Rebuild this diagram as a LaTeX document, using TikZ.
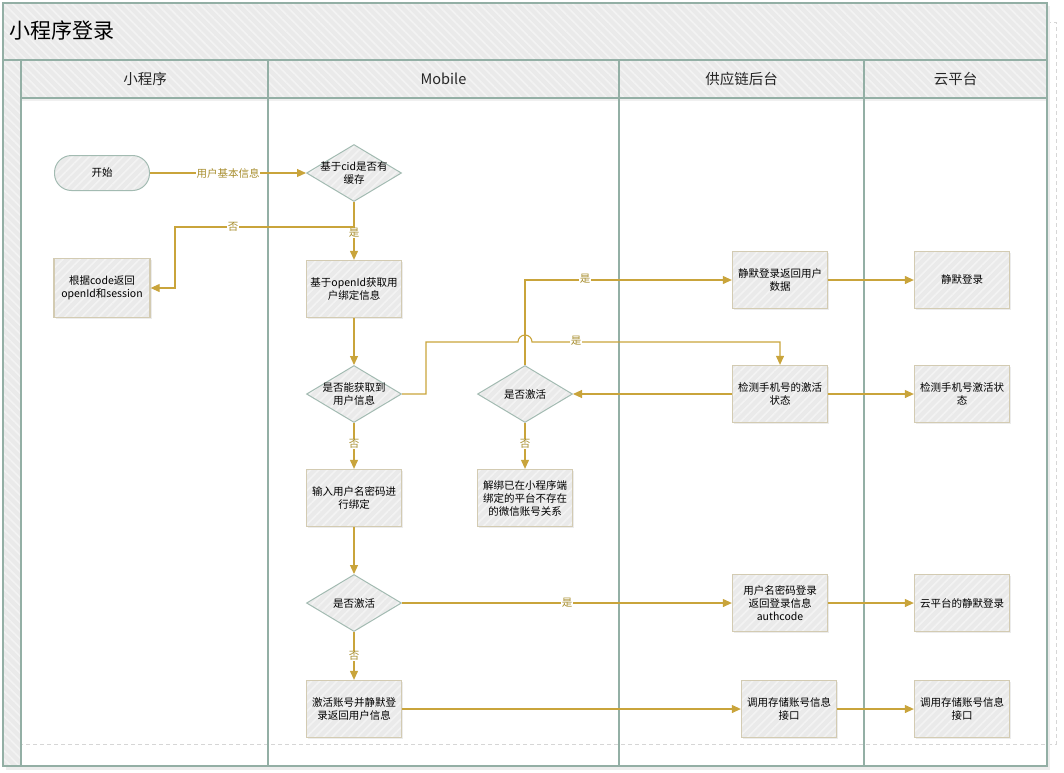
\documentclass[tikz,border=0pt]{standalone}
\usepackage{fontspec}
\setmainfont{Noto Sans CJK SC}
\usetikzlibrary{shapes.geometric,arrows.meta,patterns.meta,shadows,calc}

\definecolor{frameln}{HTML}{93AFA5}
\definecolor{hatchbg}{HTML}{EAEAEA}
\definecolor{hatchln}{HTML}{F3F3F3}
\definecolor{boxln}{HTML}{D3CBB2}
\definecolor{flow}{HTML}{C9A43B}
\definecolor{flowtxt}{HTML}{A88E2E}
\definecolor{pagedash}{HTML}{D6D6D6}

\begin{document}
\begin{tikzpicture}[x=1pt,y=-1pt,
  nodetext/.style={font=\fontsize{10.5}{13}\selectfont},
  hatch/.style={preaction={fill=hatchbg},
    pattern={Lines[angle=45,distance=6pt,line width=1.6pt]}, pattern color=hatchln},
  hdrhatch/.style={preaction={fill=hatchbg},
    pattern={Lines[angle=-45,distance=6pt,line width=1.6pt]}, pattern color=hatchln},
  box/.style={rectangle, draw=boxln, line width=1.3pt, minimum width=95pt,
    minimum height=57pt, inner sep=2pt, align=center, nodetext,
    drop shadow={shadow xshift=1.5pt, shadow yshift=-1.8pt, opacity=0.15}, hatch},
  dia/.style={diamond, draw=frameln!85, line width=1pt, minimum width=95pt,
    minimum height=57pt, inner sep=0pt, hatch},
  dtext/.style={align=center, nodetext, inner sep=0pt},
  stadium/.style={rectangle, rounded corners=17pt, draw=frameln!85, line width=1pt,
    minimum width=95pt, minimum height=35pt, nodetext, hatch},
  flowline/.style={draw=flow, line width=1.1pt, -{Triangle[length=9pt,width=8pt]}},
  lbl/.style={fill=white, text=flowtxt, font=\fontsize{10.5}{12}\selectfont, inner sep=0.8pt},
  hdr/.style={font=\fontsize{14.5}{17}\selectfont, text=black!85},
  lane/.style={draw=frameln, line width=1.2pt}]

\useasboundingbox (0,0) rectangle (1064,772);

% page edge marker
\draw[pagedash, dashed, dash pattern=on 4pt off 3pt, line width=0.8pt]
  (1047,22) -- (1056,22) -- (1056,744) -- (21,744);

% frame shadow
\fill[black!7] (6,766) rectangle (1050,770);
\fill[black!7] (1047,6) rectangle (1050,770);

% title band, side strip and lane headers
\path[hdrhatch] (3,3) rectangle (1047,60);
\path[hdrhatch] (3,60) rectangle (21,766);
\path[hdrhatch] (21,60) rectangle (1047,98);
\fill[black!6] (21,98.6) rectangle (1047,101);

% lane lines
\draw[lane] (3,3) rectangle (1047,766);
\draw[lane] (3,60) -- (1047,60);
\draw[lane] (21,98) -- (1047,98);
\draw[lane] (21,60) -- (21,766);
\draw[lane] (268,60) -- (268,766);
\draw[lane] (619,60) -- (619,766);
\draw[lane] (864,60) -- (864,766);

\node[anchor=west, font=\fontsize{21}{25}\selectfont] (title) at (6,30) {小程序登录};
\node[hdr] (lane1) at (145,79) {小程序};
\node[hdr] (lane2) at (443.5,79) {Mobile};
\node[hdr] (lane3) at (741.5,79) {供应链后台};
\node[hdr] (lane4) at (955.5,79) {云平台};

% nodes
\node[stadium] (start) at (102,173) {开始};
\node[dia, label={[dtext]center:基于cid是否有\\缓存}] (d1) at (354,173) {};
\node[box, minimum width=96pt, minimum height=59pt] (ret) at (102,288) {根据code返回\\openId和session};
\node[box] (bind) at (354,289) {基于openId获取用\\户绑定信息};
\node[dia, label={[dtext]center:是否能获取到\\用户信息}] (d2) at (354,394) {};
\node[dia, label={[dtext]center:是否激活}] (d3) at (525,394) {};
\node[box] (input) at (354,498) {输入用户名密码进\\行绑定};
\node[box] (unbind) at (525,498) {解绑已在小程序端\\绑定的平台不存在\\的微信账号关系};
\node[box] (silent) at (780,280) {静默登录返回用户\\数据};
\node[box] (check) at (780,394) {检测手机号的激活\\状态};
\node[box] (csilent) at (962,280) {静默登录};
\node[box] (ccheck) at (962,394) {检测手机号激活状\\态};
\node[dia, label={[dtext]center:是否激活}] (d4) at (354,603) {};
\node[box] (activ) at (354,709) {激活账号并静默登\\录返回用户信息};
\node[box] (pwd) at (780,603) {用户名密码登录\\返回登录信息\\authcode};
\node[box] (cpwd) at (962,603) {云平台的静默登录};
\node[box] (store) at (789,709) {调用存储账号信息\\接口};
\node[box] (cstore) at (962,709) {调用存储账号信息\\接口};

% connectors
\draw[flowline] (start) -- (d1);
\node[lbl] (l1) at (228,173) {用户基本信息};

\coordinate (fork) at (354,227);
\coordinate (nobend) at (175,227);
\draw[flowline] (d1.south) -- (bind.north);
\node[lbl] (l2) at (354,233) {是};
\draw[flowline] (fork) -- (nobend) |- (ret.east);
\node[lbl] (l3) at (233,227) {否};

\draw[flowline] (bind) -- (d2);

\coordinate (b1) at (426,342);
\draw[flowline] (d2.east) -| (b1) -- ($(d3.north|-b1)+(-7,0)$)
  arc[start angle=180, end angle=0, radius=7pt] -| (check.north);
\node[lbl] (l4) at (576,341) {是};

\draw[flowline] (d3.north) |- (silent.west);
\node[lbl] (l5) at (585,279) {是};

\draw[flowline] (check) -- (d3);
\draw[flowline] (d3) -- (unbind);
\node[lbl] (l6) at (525,444) {否};
\draw[flowline] (d2) -- (input);
\node[lbl] (l7) at (354,444) {否};
\draw[flowline] (input) -- (d4);
\draw[flowline] (d4) -- (pwd);
\node[lbl] (l8) at (567,603) {是};
\draw[flowline] (d4) -- (activ);
\node[lbl] (l9) at (354,656) {否};
\draw[flowline] (activ) -- (store);

\draw[flowline] (silent) -- (csilent);
\draw[flowline] (check) -- (ccheck);
\draw[flowline] (pwd) -- (cpwd);
\draw[flowline] (store) -- (cstore);

\end{tikzpicture}
\end{document}
